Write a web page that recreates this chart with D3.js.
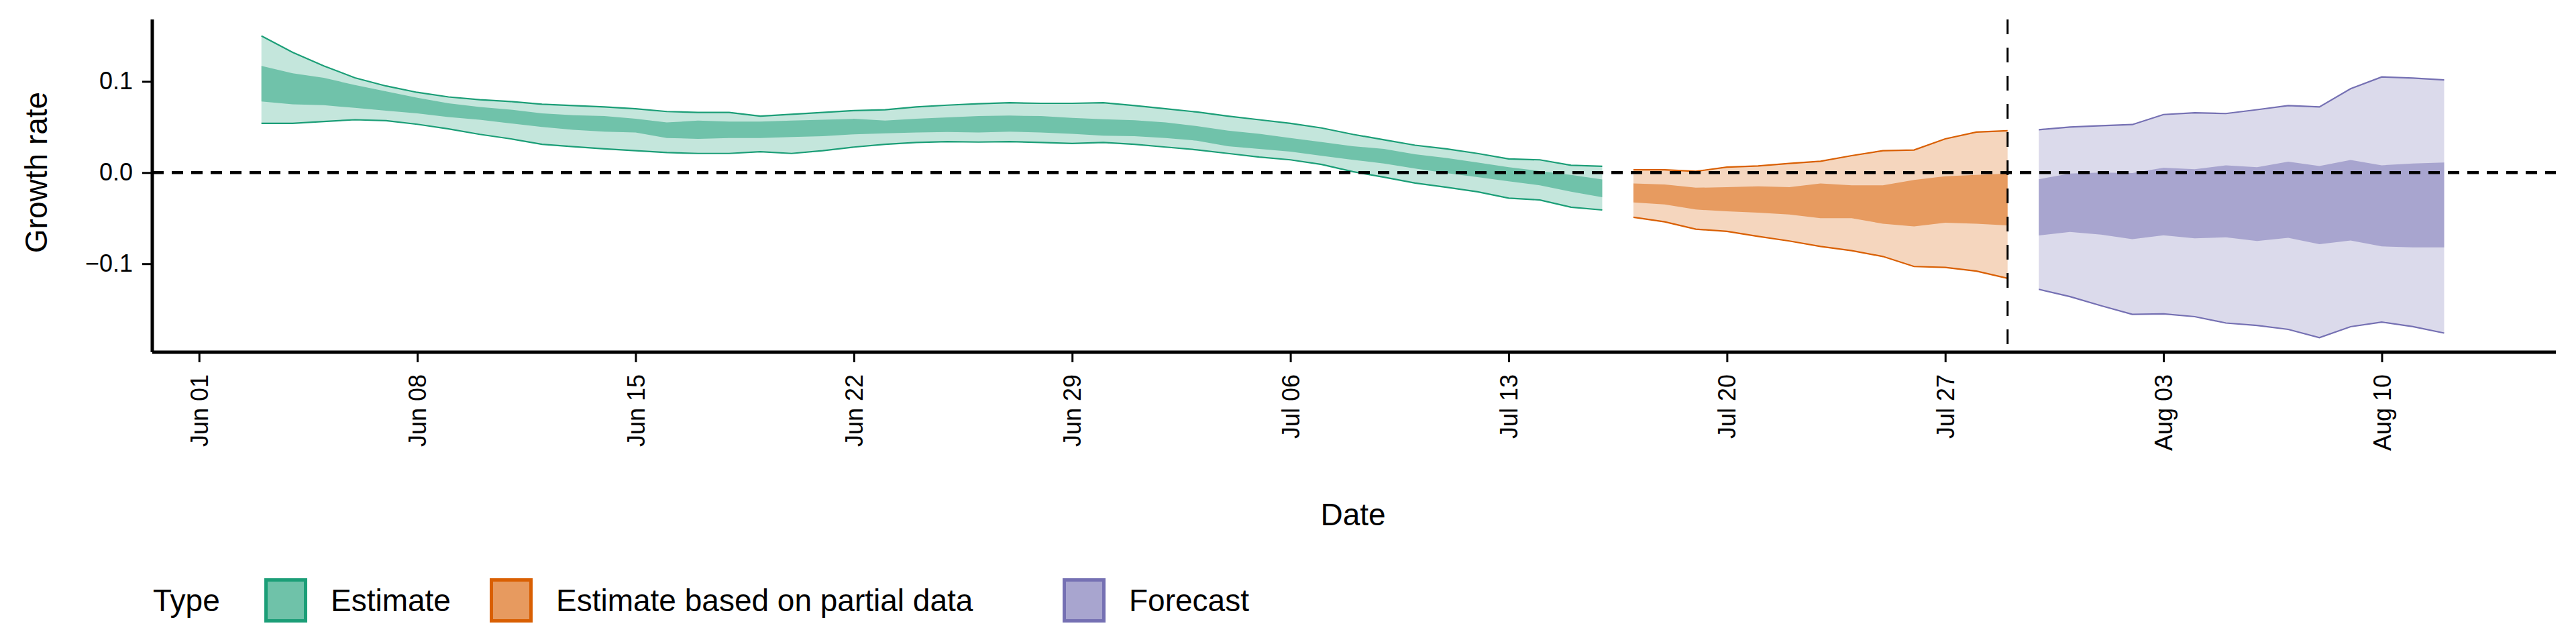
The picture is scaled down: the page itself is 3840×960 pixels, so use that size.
<!DOCTYPE html>
<meta charset="utf-8">
<style>
body { margin:0; background:#fff; }
text { font-family: "Liberation Sans", Arial, sans-serif; fill:#000; }
.axis path, .axis line { stroke:#000; }
.axis text { font-size:36px; }
</style>
<body>
<script src="https://d3js.org/d3.v7.min.js"></script>
<script>

// each series: start date, then daily [outer low, inner low, inner high, outer high]
var estStart = "2020-06-03";
var estOuterLo = [0.054,0.054,0.056,0.058,0.057,0.053,0.048,0.042,0.037,0.031,0.0285,0.026,0.024,0.022,0.021,0.021,0.023,0.021,0.024,0.028,0.031,0.033,0.034,0.0335,0.034,0.033,0.032,0.033,0.031,0.028,0.025,0.021,0.017,0.014,0.009,0.001,-0.005,-0.0115,-0.016,-0.021,-0.028,-0.030,-0.038,-0.041];
var estInnerLo = [0.078,0.075,0.074,0.071,0.068,0.065,0.061,0.058,0.054,0.050,0.047,0.045,0.044,0.038,0.037,0.038,0.038,0.039,0.040,0.042,0.043,0.044,0.0445,0.044,0.045,0.044,0.0425,0.0405,0.040,0.038,0.035,0.029,0.026,0.023,0.0185,0.014,0.010,0.0045,-0.0005,-0.005,-0.0096,-0.014,-0.021,-0.027];
var estInnerHi = [0.117,0.109,0.104,0.096,0.089,0.082,0.076,0.072,0.069,0.065,0.063,0.062,0.059,0.055,0.057,0.056,0.056,0.057,0.058,0.059,0.057,0.059,0.0605,0.062,0.0625,0.062,0.060,0.0586,0.0575,0.055,0.051,0.046,0.0425,0.038,0.0335,0.029,0.026,0.020,0.016,0.011,0.006,0.0017,-0.0025,-0.0076];
var estOuterHi = [0.150,0.132,0.117,0.104,0.095,0.088,0.083,0.080,0.078,0.075,0.0735,0.072,0.070,0.067,0.066,0.066,0.062,0.064,0.066,0.068,0.069,0.072,0.074,0.0755,0.0766,0.076,0.076,0.0766,0.0735,0.070,0.0665,0.062,0.058,0.054,0.049,0.042,0.036,0.030,0.026,0.021,0.015,0.014,0.008,0.007];

var partStart = "2020-07-17";
var partOuterLo = [-0.049,-0.054,-0.062,-0.0645,-0.070,-0.075,-0.081,-0.0856,-0.092,-0.103,-0.104,-0.108,-0.116];
var partInnerLo = [-0.0327,-0.035,-0.0405,-0.0425,-0.044,-0.046,-0.050,-0.050,-0.056,-0.059,-0.055,-0.056,-0.058];
var partInnerHi = [-0.012,-0.013,-0.0166,-0.016,-0.015,-0.016,-0.012,-0.014,-0.014,-0.008,-0.004,-0.0025,-0.001];
var partOuterHi = [0.003,0.003,0.0014,0.006,0.0073,0.010,0.0124,0.0186,0.024,0.0248,0.037,0.0445,0.046];

var fcStart = "2020-07-30";
var fcOuterLo = [-0.128,-0.136,-0.146,-0.1555,-0.155,-0.158,-0.165,-0.1676,-0.172,-0.181,-0.169,-0.164,-0.169,-0.176];
var fcInnerLo = [-0.069,-0.065,-0.068,-0.073,-0.0687,-0.072,-0.071,-0.075,-0.0715,-0.0786,-0.0744,-0.081,-0.082,-0.082];
var fcInnerHi = [-0.0073,-0.001,0,-0.0006,0.0054,0.0037,0.008,0.006,0.012,0.0073,0.0138,0.008,0.010,0.011];
var fcOuterHi = [0.047,0.050,0.0515,0.0527,0.0637,0.0656,0.0648,0.069,0.0735,0.072,0.092,0.105,0.1037,0.1017];

var types = ["Estimate","Estimate based on partial data","Forecast"];
var colors = ["#1b9e77","#d95f02","#7570b3"];
var xTicks = ["2020-06-01","2020-06-08","2020-06-15","2020-06-22","2020-06-29","2020-07-06","2020-07-13","2020-07-20","2020-07-27","2020-08-03","2020-08-10"];
var yTicks = [-0.1, 0, 0.1];
var cutDate = "2020-07-29";

var parse = d3.utcParse("%Y-%m-%d");
function build(start, olo, ilo, ihi, ohi){
  var s = parse(start);
  return olo.map(function(v,i){
    return {date:d3.utcDay.offset(s,i), olo:v, ilo:ilo[i], ihi:ihi[i], ohi:ohi[i]};
  });
}
var series = [
  build(estStart, estOuterLo, estInnerLo, estInnerHi, estOuterHi),
  build(partStart, partOuterLo, partInnerLo, partInnerHi, partOuterHi),
  build(fcStart, fcOuterLo, fcInnerLo, fcInnerHi, fcOuterHi)
];

var W = 3840, H = 960;
var m = {left:227, right:30, top:29, bottom:435};
var svg = d3.select("body").append("svg").attr("width",W).attr("height",H);

var x = d3.scaleUtc()
  .domain([d3.utcHour.offset(parse("2020-06-01"),-36), d3.utcHour.offset(parse("2020-08-15"),14)])
  .range([m.left, W-m.right]);
var y = d3.scaleLinear().domain([-0.197,0.168]).range([H-m.bottom, m.top]);

var outer = d3.area().x(d=>x(d.date)).y0(d=>y(d.olo)).y1(d=>y(d.ohi));
var inner = d3.area().x(d=>x(d.date)).y0(d=>y(d.ilo)).y1(d=>y(d.ihi));
var lo = d3.line().x(d=>x(d.date)).y(d=>y(d.olo));
var hi = d3.line().x(d=>x(d.date)).y(d=>y(d.ohi));

series.forEach(function(s,i){
  var g = svg.append("g");
  g.append("path").attr("d",outer(s)).attr("fill",colors[i]).attr("fill-opacity",0.26);
  g.append("path").attr("d",inner(s)).attr("fill",colors[i]).attr("fill-opacity",0.5);
  g.append("path").attr("d",lo(s)).attr("fill","none").attr("stroke",colors[i]).attr("stroke-width",2.2);
  g.append("path").attr("d",hi(s)).attr("fill","none").attr("stroke",colors[i]).attr("stroke-width",2.2);
});

svg.append("line").attr("x1",m.left).attr("x2",W-m.right).attr("y1",y(0)).attr("y2",y(0))
  .attr("stroke","#000").attr("stroke-width",4.5).attr("stroke-dasharray","17,12");
svg.append("line").attr("x1",x(parse(cutDate))).attr("x2",x(parse(cutDate)))
  .attr("y1",m.top).attr("y2",H-m.bottom)
  .attr("stroke","#000").attr("stroke-width",3).attr("stroke-dasharray","22,20");

var xAxis = svg.append("g").attr("class","axis").attr("transform","translate(0,"+(H-m.bottom)+")")
  .call(d3.axisBottom(x).tickValues(xTicks.map(parse)).tickFormat(d3.utcFormat("%b %d")).tickSize(15).tickPadding(6));
xAxis.select(".domain").attr("stroke-width",5).attr("d","M"+m.left+",0H"+(W-m.right));
xAxis.selectAll(".tick line").attr("stroke-width",3);
xAxis.selectAll("text").attr("transform","rotate(-90)").attr("text-anchor","end")
  .attr("x",-33).attr("y",0).attr("dy","0.35em");

var yAxis = svg.append("g").attr("class","axis").attr("transform","translate("+m.left+",0)")
  .call(d3.axisLeft(y).tickValues(yTicks).tickFormat(d3.format(".1f")).tickSize(15).tickPadding(14));
yAxis.select(".domain").attr("stroke-width",5).attr("d","M0,"+m.top+"V"+(H-m.bottom));
yAxis.selectAll(".tick line").attr("stroke-width",3);

svg.append("text").attr("x",2017).attr("y",783).attr("text-anchor","middle").style("font-size","46px").text("Date");
svg.append("text").attr("transform","translate(70,257)rotate(-90)").attr("text-anchor","middle")
  .style("font-size","46px").text("Growth rate");

// legend
var lg = svg.append("g").attr("transform","translate(0,895)");
lg.append("text").attr("x",228).attr("y",16).style("font-size","46px").text("Type");
var keyX = [394, 730, 1584];
types.forEach(function(t,i){
  lg.append("rect").attr("x",keyX[i]+2.5).attr("y",-30.5).attr("width",59).attr("height",61)
    .attr("fill",colors[i]).attr("fill-opacity",0.63).attr("stroke",colors[i]).attr("stroke-width",5);
  lg.append("text").attr("x",keyX[i]+99).attr("y",16).style("font-size","46px").text(t);
});
</script>
</body>
</html>
